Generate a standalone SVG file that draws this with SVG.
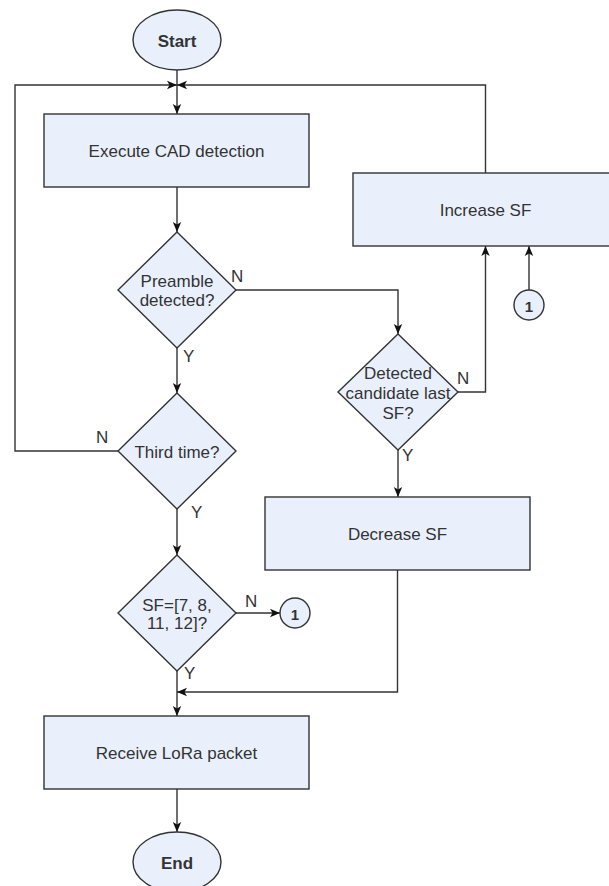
<svg xmlns="http://www.w3.org/2000/svg" width="609" height="886" viewBox="0 0 609 886">
  <style>
    .shape { fill: #e9f0fc; stroke: #333333; stroke-width: 1.4; }
    .edge { fill: none; stroke: #333333; stroke-width: 1.4; }
    .txt { font-family: "Liberation Sans", Arial, Helvetica, sans-serif; font-size: 17px; fill: #333333; text-anchor: middle; dominant-baseline: central; }
    .bold { font-weight: bold; }
    .lbl { font-family: "Liberation Sans", Arial, Helvetica, sans-serif; font-size: 17px; fill: #333333; }
    .num { font-family: "Liberation Sans", Arial, Helvetica, sans-serif; font-size: 15px; font-weight: bold; fill: #333333; text-anchor: middle; dominant-baseline: central; }
  </style>
  <defs>
    <marker id="arrow" viewBox="0 0 10 10" refX="10" refY="5" markerWidth="10" markerHeight="10" markerUnits="userSpaceOnUse" orient="auto">
      <path d="M0,0.8 L10,5 L0,9.2 L2.5,5 z" fill="#111111"/>
    </marker>
  </defs>
  <rect width="609" height="886" fill="#ffffff"/>

  <!-- connectors -->
  <g id="connectors">
    <path class="edge" d="M177,70 L177,114" marker-end="url(#arrow)"/>
    <path class="edge" d="M118,451 L15,451 L15,85 L177,85" marker-end="url(#arrow)"/>
    <path class="edge" d="M485.5,173 L485.5,85 L177,85" marker-end="url(#arrow)"/>
    <path class="edge" d="M177,187 L177,232" marker-end="url(#arrow)"/>
    <path class="edge" d="M236,290 L398,290 L398,334" marker-end="url(#arrow)"/>
    <path class="edge" d="M177,348 L177,393" marker-end="url(#arrow)"/>
    <path class="edge" d="M177,509 L177,555" marker-end="url(#arrow)"/>
    <path class="edge" d="M236,613 L280,613" marker-end="url(#arrow)"/>
    <path class="edge" d="M177,671 L177,716" marker-end="url(#arrow)"/>
    <path class="edge" d="M397.5,570 L397.5,692 L177,692" marker-end="url(#arrow)"/>
    <path class="edge" d="M458,392 L485.5,392 L485.5,246" marker-end="url(#arrow)"/>
    <path class="edge" d="M398,450 L398,497" marker-end="url(#arrow)"/>
    <path class="edge" d="M529,290 L529,246" marker-end="url(#arrow)"/>
    <path class="edge" d="M177,789 L177,832" marker-end="url(#arrow)"/>

    <text class="lbl" x="96" y="443">N</text>
    <text class="lbl" x="231" y="282">N</text>
    <text class="lbl" x="183" y="362">Y</text>
    <text class="lbl" x="191" y="518">Y</text>
    <text class="lbl" x="245" y="607">N</text>
    <text class="lbl" x="184" y="679">Y</text>
    <text class="lbl" x="457" y="384">N</text>
    <text class="lbl" x="402" y="461">Y</text>
  </g>

  <g id="start">
    <ellipse class="shape" cx="177" cy="40" rx="44" ry="30"/>
    <text class="txt bold" x="177" y="41">Start</text>
  </g>

  <g id="execute-cad">
    <rect class="shape" x="44" y="114" width="265" height="73"/>
    <text class="txt" x="176.5" y="151">Execute CAD detection</text>
  </g>

  <g id="increase-sf">
    <rect class="shape" x="353" y="173" width="265" height="73"/>
    <text class="txt" x="485.5" y="210">Increase SF</text>
  </g>

  <g id="preamble-detected">
    <polygon class="shape" points="177,232 236,290 177,348 118,290"/>
    <text class="txt" x="177" y="281">Preamble</text>
    <text class="txt" x="177" y="300">detected?</text>
  </g>

  <g id="detected-candidate">
    <polygon class="shape" points="398,334 458,392 398,450 338,392"/>
    <text class="txt" x="398" y="373">Detected</text>
    <text class="txt" x="398" y="393">candidate last</text>
    <text class="txt" x="398" y="413">SF?</text>
  </g>

  <g id="connector-1-top">
    <circle class="shape" cx="529" cy="305" r="15"/>
    <text class="num" x="529" y="306">1</text>
  </g>

  <g id="third-time">
    <polygon class="shape" points="177,393 236,451 177,509 118,451"/>
    <text class="txt" x="177" y="452">Third time?</text>
  </g>

  <g id="decrease-sf">
    <rect class="shape" x="265" y="497" width="265" height="73"/>
    <text class="txt" x="397.5" y="534">Decrease SF</text>
  </g>

  <g id="sf-check">
    <polygon class="shape" points="177,555 236,613 177,671 118,613"/>
    <text class="txt" x="177" y="605">SF=[7, 8,</text>
    <text class="txt" x="177" y="623">11, 12]?</text>
  </g>

  <g id="connector-1-side">
    <circle class="shape" cx="295" cy="613" r="15"/>
    <text class="num" x="295" y="614">1</text>
  </g>

  <g id="receive-lora">
    <rect class="shape" x="44" y="716" width="265" height="73"/>
    <text class="txt" x="176.5" y="753">Receive LoRa packet</text>
  </g>

  <g id="end">
    <ellipse class="shape" cx="177" cy="862" rx="44" ry="30"/>
    <text class="txt bold" x="177" y="863">End</text>
  </g>
</svg>
